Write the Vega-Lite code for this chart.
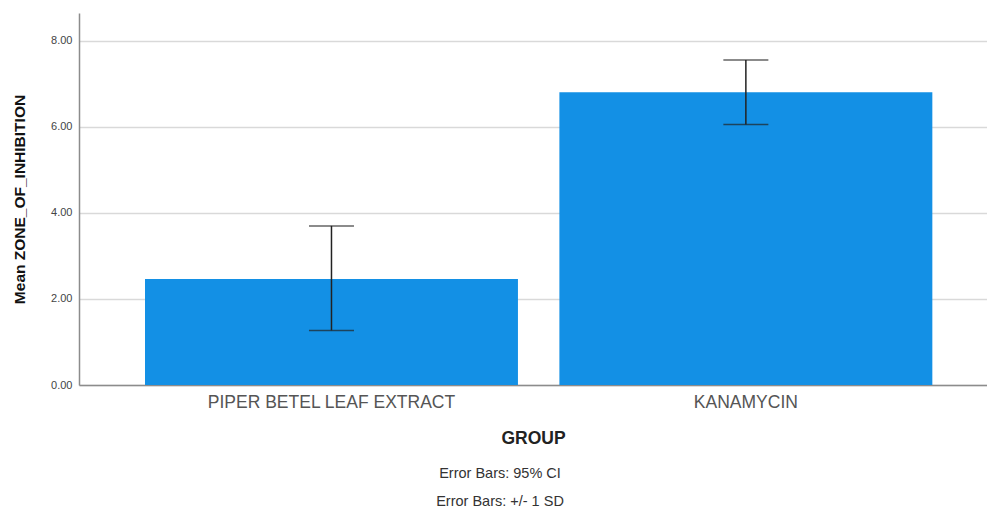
{
  "$schema": "https://vega.github.io/schema/vega-lite/v6.json",
  "width": 908,
  "height": 372,
  "autosize": {"type": "none"},
  "padding": {"left": 79, "top": 13, "right": 0, "bottom": 123},
  "background": "white",
  "config": {
    "font": "Liberation Sans",
    "view": {"stroke": null},
    "axis": {"grid": false}
  },
  "title": {
    "text": ["Error Bars: 95% CI", "Error Bars: +/- 1 SD"],
    "orient": "bottom",
    "anchor": "middle",
    "dx": -33,
    "offset": 20,
    "fontSize": 14.5,
    "fontWeight": "normal",
    "color": "#333333",
    "lineHeight": 28,
    "font": "Liberation Sans"
  },
  "data": {
    "values": [
      {"GROUP": "PIPER BETEL LEAF EXTRACT", "mean": 2.465, "lo": 1.27, "hi": 3.70},
      {"GROUP": "KANAMYCIN", "mean": 6.81, "lo": 6.06, "hi": 7.56}
    ]
  },
  "encoding": {
    "x": {
      "field": "GROUP",
      "type": "nominal",
      "sort": null,
      "scale": {"paddingInner": 0.1, "paddingOuter": 0.1456, "align": 0.547},
      "axis": {
        "title": "GROUP",
        "titleFontSize": 17.5,
        "titleFontWeight": "bold",
        "titleColor": "#222222",
        "titlePadding": 19,
        "labelAngle": 0,
        "labelLimit": 0,
        "labelFontSize": 17.5,
        "labelColor": "#555555",
        "labelPadding": 8,
        "ticks": false,
        "domainColor": "#8c8c8c",
        "domainWidth": 1.5
      }
    }
  },
  "layer": [
    {
      "mark": {"type": "bar", "color": "#1390e5"},
      "encoding": {
        "y": {
          "field": "mean",
          "type": "quantitative",
          "scale": {"domain": [0, 8.65], "nice": false},
          "axis": {
            "title": "Mean ZONE_OF_INHIBITION",
            "titleFontSize": 15.5,
            "titleFontWeight": "bold",
            "titleColor": "#111111",
            "titlePadding": 23,
            "values": [0, 2, 4, 6, 8],
            "format": ".2f",
            "labelFontSize": 11,
            "labelColor": "#444444",
            "labelPadding": 7,
            "ticks": false,
            "domainColor": "#8c8c8c",
            "domainWidth": 1.5,
            "grid": true,
            "gridColor": "#d9d9d9",
            "gridWidth": 1.5
          }
        }
      }
    },
    {
      "mark": {"type": "rule", "color": "#222222", "strokeWidth": 1.5},
      "encoding": {
        "y": {"field": "lo", "type": "quantitative"},
        "y2": {"field": "hi"}
      }
    },
    {
      "mark": {"type": "tick", "color": "#222222", "size": 45, "thickness": 1.5},
      "encoding": {"y": {"field": "lo", "type": "quantitative"}}
    },
    {
      "mark": {"type": "tick", "color": "#222222", "size": 45, "thickness": 1.5},
      "encoding": {"y": {"field": "hi", "type": "quantitative"}}
    }
  ]
}
